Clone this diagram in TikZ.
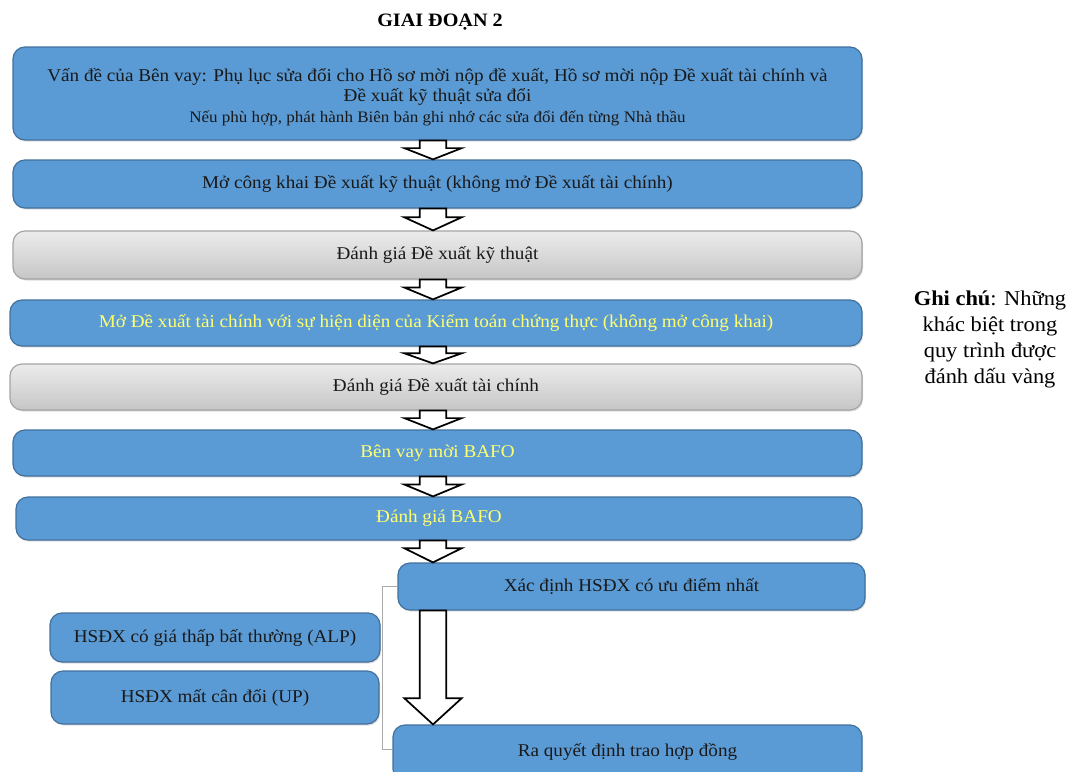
\documentclass[tikz,border=0pt]{standalone}
\usepackage{fontspec}
\setmainfont{Liberation Serif}[FakeStretch=1.065]
\usetikzlibrary{calc,shadows}

\definecolor{boxblue}{RGB}{91,155,213}
\definecolor{boxedge}{RGB}{65,113,156}
\definecolor{greytop}{RGB}{236,236,236}
\definecolor{greybot}{RGB}{198,198,198}
\definecolor{greyedge}{RGB}{165,165,165}
\definecolor{hilite}{RGB}{255,255,110}
\definecolor{textdark}{RGB}{25,25,25}
\definecolor{bracketgrey}{RGB}{170,170,170}

\tikzset{
  stage/.style={rounded corners=9pt, draw=boxedge, line width=0.9pt, fill=boxblue,
    text=textdark, align=center, inner sep=0pt,
    drop shadow={opacity=0.25, shadow xshift=0.8pt, shadow yshift=-1.2pt}},
  greystage/.style={stage, draw=greyedge, top color=greytop, bottom color=greybot},
  hl/.style={text=hilite},
  flowarr/.style={draw=black, fill=white, line width=1.3pt, line join=miter},
  bracket/.style={draw=bracketgrey, line width=0.6pt},
  bodyfont/.style={font=\fontsize{13.5}{15}\selectfont},
}

% block arrow from the bottom of #1 to the top of #2 on the column #3;
% #4 is the part of the gap taken by the shaft
\newcommand\flowarrow[4]{%
  \draw[flowarr] let \p1=(#1.south -| #3), \p2=(#2.north -| #3),
      \n1={\y1+(\y2-\y1)*#4} in
    (\x1-10pt,\y1) -- (\x1+10pt,\y1) -- (\x1+10pt,\n1) -- (\x1+21.5pt,\n1)
    -- (\x1,\y2) -- (\x1-21.5pt,\n1) -- (\x1-10pt,\n1) -- cycle;}

\begin{document}
\begin{tikzpicture}[x=0.75pt,y=-0.75pt,bodyfont]
\useasboundingbox (0,0) rectangle (1074,771);
\clip (0,0) rectangle (1074,771);
\fill[white] (0,0) rectangle (1074,771);

\node[font=\fontsize{14.2}{16}\bfseries] (title) at (440,22) {GIAI ĐOẠN 2};

\node[stage, minimum width=849*0.75pt, minimum height=93*0.75pt] (b1) at (437.5,93.5)
  {\raisebox{0pt}[15pt][0pt]{}Vấn đề của Bên vay: Phụ lục sửa đổi cho Hồ sơ mời nộp đề xuất, Hồ sơ mời nộp Đề xuất tài chính và\\
   Đề xuất kỹ thuật sửa đổi\\[1pt]
   \fontsize{12}{13}\selectfont Nếu phù hợp, phát hành Biên bản ghi nhớ các sửa đổi đến từng Nhà thầu};
\node[stage, minimum width=849*0.75pt, minimum height=48*0.75pt] (b2) at (437.5,184)
  {Mở công khai Đề xuất kỹ thuật (không mở Đề xuất tài chính)};
\node[greystage, minimum width=849*0.75pt, minimum height=48*0.75pt] (b3) at (437.5,255)
  {Đánh giá Đề xuất kỹ thuật};
\node[stage, hl, minimum width=852*0.75pt, minimum height=46*0.75pt] (b4) at (436,323)
  {Mở Đề xuất tài chính với sự hiện diện của Kiểm toán chứng thực (không mở công khai)};
\node[greystage, minimum width=852*0.75pt, minimum height=46*0.75pt] (b5) at (436,387)
  {Đánh giá Đề xuất tài chính};
\node[stage, hl, minimum width=849*0.75pt, minimum height=46*0.75pt] (b6) at (437.5,453)
  {Bên vay mời BAFO};
\node[stage, hl, minimum width=846*0.75pt, minimum height=43*0.75pt] (b7) at (439,518.5)
  {Đánh giá BAFO};
\node[stage, minimum width=467*0.75pt, minimum height=47*0.75pt] (b8) at (631.5,586.5)
  {Xác định HSĐX có ưu điểm nhất};
\node[stage, minimum width=469*0.75pt, minimum height=56*0.75pt] (b9) at (627.5,753)
  {\raisebox{4.5pt}{Ra quyết định trao hợp đồng}};
\node[stage, minimum width=330*0.75pt, minimum height=49*0.75pt] (alp) at (215,637.5)
  {HSĐX có giá thấp bất thường (ALP)};
\node[stage, minimum width=328*0.75pt, minimum height=53*0.75pt] (up) at (215,697.5)
  {HSĐX mất cân đối (UP)};

\node[align=center, font=\fontsize{15.8}{19.5}\selectfont] (note) at (990,339)
  {\textbf{Ghi chú}: Những\\ khác biệt trong\\ quy trình được\\ đánh dấu vàng};

% arrow column
\coordinate (col) at (433,0);
\flowarrow{b1}{b2}{col}{0.4}
\flowarrow{b2}{b3}{col}{0.4}
\flowarrow{b3}{b4}{col}{0.4}
\flowarrow{b4}{b5}{col}{0.4}
\flowarrow{b5}{b6}{col}{0.4}
\flowarrow{b6}{b7}{col}{0.4}
\flowarrow{b7}{b8}{col}{0.35}
\flowarrow{b8}{b9}{col}{0.77}

% side bracket joining the two side checks
\draw[bracket] (b8.west) -- ++(-15,0) coordinate (bk1) |- (b9.west |- 0,749);
\end{tikzpicture}
\end{document}
